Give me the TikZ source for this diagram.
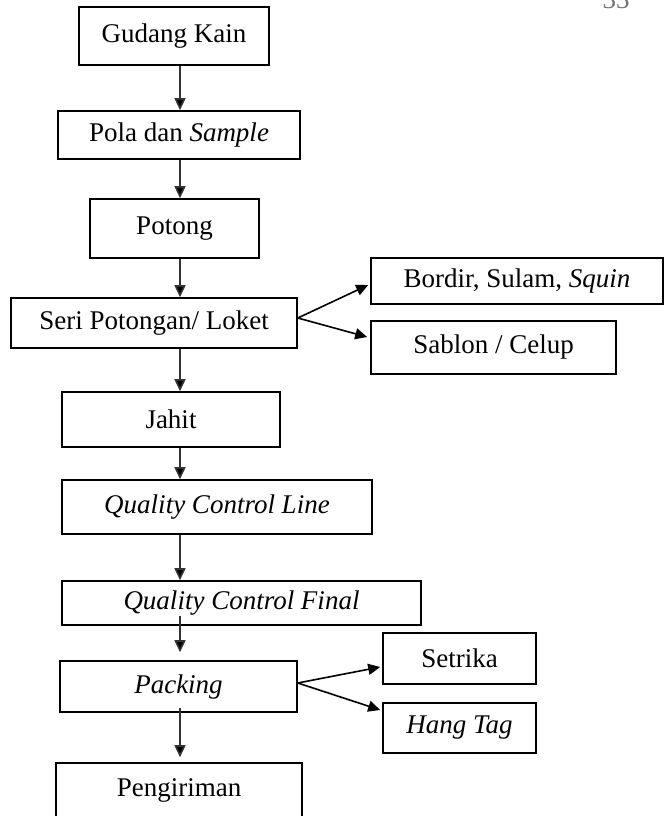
\documentclass[tikz,border=0pt]{standalone}
\usepackage{fontspec}
\setmainfont{Liberation Serif}
\usetikzlibrary{arrows.meta,calc}
\begin{document}
\begin{tikzpicture}[x=1pt,y=-1pt,
  box/.style={draw=black,line width=1.6pt,inner sep=0pt,font=\fontsize{27}{31}\selectfont},
  flow/.style={draw=black!80,line width=1.6pt,-{Triangle[length=12pt,width=11pt,fill=black]}}]
\useasboundingbox (0,0) rectangle (664,816);
\coordinate (spine) at (180,0);
\node[anchor=base,text=black!55,font=\fontsize{27}{31}\selectfont] (pg) at (616,9) {33};
\node[box,minimum width=190,minimum height=58] (gk) at (174,36) {Gudang Kain};
\node[box,minimum width=242,minimum height=48] (pola) at (179,135) {Pola dan \textit{Sample}};
\node[box,minimum width=169,minimum height=59] (potong) at (174.5,228.5) {Potong};
\node[box,minimum width=286,minimum height=50] (seri) at (154,323) {Seri Potongan/ Loket};
\node[box,minimum width=292,minimum height=46] (bordir) at (517,281) {Bordir, Sulam, \textit{Squin}};
\node[box,minimum width=245,minimum height=53] (sablon) at (493.5,347.5) {Sablon / Celup};
\node[box,minimum width=218,minimum height=55] (jahit) at (171,419.5) {Jahit};
\node[box,minimum width=310,minimum height=54] (qcl) at (217,507) {\textit{Quality Control Line}};
\node[box,minimum width=359,minimum height=44] (qcf) at (241.5,603) {\textit{Quality Control Final}};
\node[box,minimum width=237,minimum height=51] (packing) at (178.5,686.5) {\textit{Packing}};
\node[box,minimum width=153,minimum height=51] (setrika) at (459.5,658.5) {Setrika};
\node[box,minimum width=153,minimum height=50] (hangtag) at (459.5,728) {\textit{Hang Tag}};
\node[box,minimum width=246,minimum height=55] (peng) at (179,790.5) {Pengiriman};
% vertical flow
\draw[flow] (gk.south -| spine) -- (pola.north -| spine);
\draw[flow] (pola.south -| spine) -- (potong.north -| spine);
\draw[flow] (potong.south -| spine) -- (seri.north -| spine);
\draw[flow] (seri.south -| spine) -- (jahit.north -| spine);
\draw[flow] (jahit.south -| spine) -- (qcl.north -| spine);
\draw[flow] (qcl.south -| spine) -- (qcf.north -| spine);
\draw[flow,shorten <=-10pt,shorten >=8pt] (qcf.south -| spine) -- (packing.north -| spine);
\draw[flow,shorten <=-5pt,shorten >=5pt] (packing.south -| spine) -- (peng.north -| spine);
% branches
\draw[flow,draw=black] ($(seri.east)+(0,-5)$) -- ($(bordir.west)+(-2,4)$);
\draw[flow,draw=black] ($(seri.east)+(0,-5)$) -- ($(sablon.west)+(-3,-10.5)$);
\draw[flow,draw=black] ($(packing.east)+(0,-3.5)$) -- ($(setrika.west)+(-2,8.5)$);
\draw[flow,draw=black] ($(packing.east)+(0,-3.5)$) -- ($(hangtag.west)+(-2,-18)$);
\end{tikzpicture}
\end{document}
